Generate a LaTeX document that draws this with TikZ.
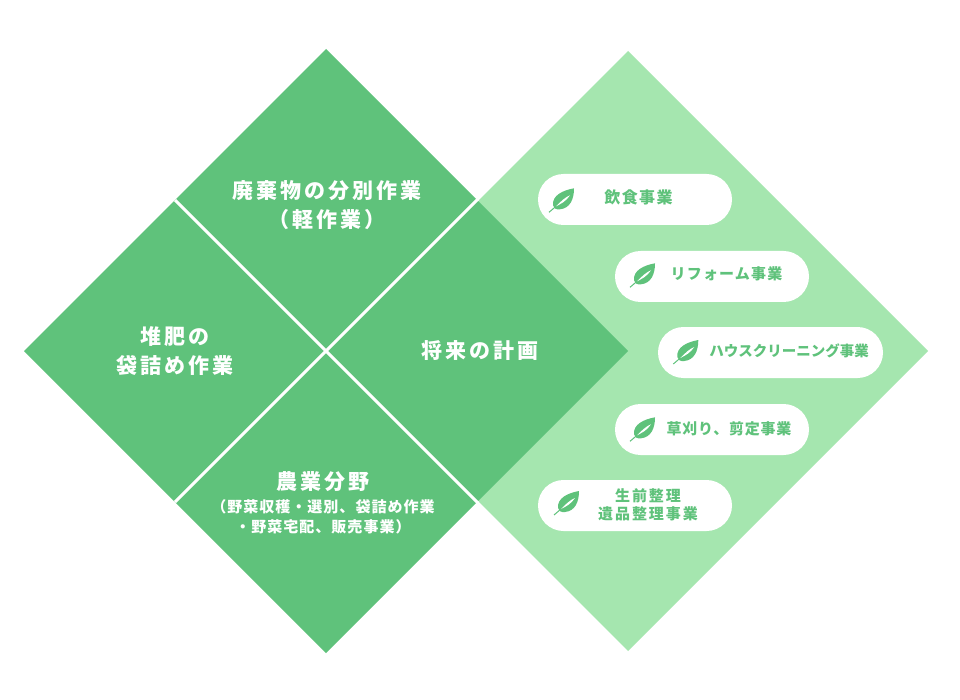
\documentclass[tikz,border=0pt]{standalone}
\usepackage{fontspec}
\setmainfont{Noto Sans CJK JP}
\newcommand{\fs}[3]{\fontsize{#1}{#2}\selectfont\addfontfeatures{LetterSpace=#3}}
\definecolor{darkg}{HTML}{5FC27B}
\definecolor{lightg}{HTML}{A5E6AF}
\tikzset{
  x=1pt,y=-1pt,
  bigtext/.style={text=white,align=center,inner sep=0pt,font=\bfseries\fs{21}{28.5}{14}},
  subtext/.style={text=white,align=center,inner sep=0pt,font=\bfseries\fs{15}{19.5}{6.7}},
  pilltext/.style={text=darkg,align=center,inner sep=0pt,font=\bfseries\fs{15}{18}{8}},
  pillbox/.style={fill=white,rounded corners=25.5pt},
  divider/.style={draw=white,line width=3pt},
  leafmark/.pic={
    \fill[darkg] (0,0) .. controls (0,11) and (-4,20) .. (-14,21)
      .. controls (-18,21.5) and (-20.5,20) .. (-21,17)
      .. controls (-22,7) and (-11,2) .. (0,0) -- cycle;
    \draw[darkg,line width=1pt] (-18,18) -- (-25,24);
    \fill[white] (-4,7) .. controls (-9,9) and (-13,13) .. (-18,18)
      .. controls (-13,15.5) and (-8,13) .. (-4,7) -- cycle;
  }
}
\begin{document}
\begin{tikzpicture}
\useasboundingbox (0,0) rectangle (960,700);
\fill[white] (0,0) rectangle (960,700);
% corners
\coordinate (rt) at (628,51); \coordinate (rr) at (928,351);
\coordinate (rb) at (628,651); \coordinate (rl) at (328,351);
\coordinate (lt) at (326,49); \coordinate (lr) at (628,351);
\coordinate (lb) at (326,653); \coordinate (ll) at (24,351);
\coordinate (d1a) at (175,200); \coordinate (d1b) at (478,503);
\coordinate (d2a) at (175,502); \coordinate (d2b) at (478,199);
\fill[lightg] (rt) -- (rr) -- (rb) -- (rl) -- cycle;
\fill[darkg] (lt) -- (lr) -- (lb) -- (ll) -- cycle;
\draw[divider] (d1a) -- (d1b);
\draw[divider] (d2a) -- (d2b);
% pills
\fill[pillbox] (538,174) rectangle (732,225);
\fill[pillbox] (615,251) rectangle (809,302);
\fill[pillbox] (658,327) rectangle (883,378);
\fill[pillbox] (615,404) rectangle (809,455);
\fill[pillbox] (538,480) rectangle (732,531);
\pic at (574,188.3) {leafmark};
\pic at (655,263.3) {leafmark};
\pic at (698.3,340) {leafmark};
\pic at (655,417.3) {leafmark};
\pic at (579,491) {leafmark};
% labels
\node[bigtext] (t1) at (327,205) {廃棄物の分別作業\\（軽作業）};
\node[bigtext] (t2) at (175,351) {堆肥の\\袋詰め作業};
\node[bigtext] (t3) at (480,351) {将来の計画};
\node[bigtext] (t4) at (323,481.5) {農業分野};
\node[subtext] (t5) at (323,517) {（野菜収穫・選別、袋詰め作業\\・野菜宅配、販売事業）};
\node[pilltext,font=\bfseries\fs{16}{18}{9}] (p1) at (638.5,197) {飲食事業};
\node[pilltext] (p2) at (726.5,274) {リフォーム事業};
\node[pilltext,font=\bfseries\fs{14.5}{18}{0}] (p3) at (789,351) {ハウスクリーニング事業};
\node[pilltext,font=\bfseries\fs{15}{18}{5}] (p4) at (729,429) {草刈り、剪定事業};
\node[pilltext,font=\bfseries\fs{15}{18}{13}] (p5) at (648,505) {生前整理\\遺品整理事業};
\end{tikzpicture}
\end{document}
